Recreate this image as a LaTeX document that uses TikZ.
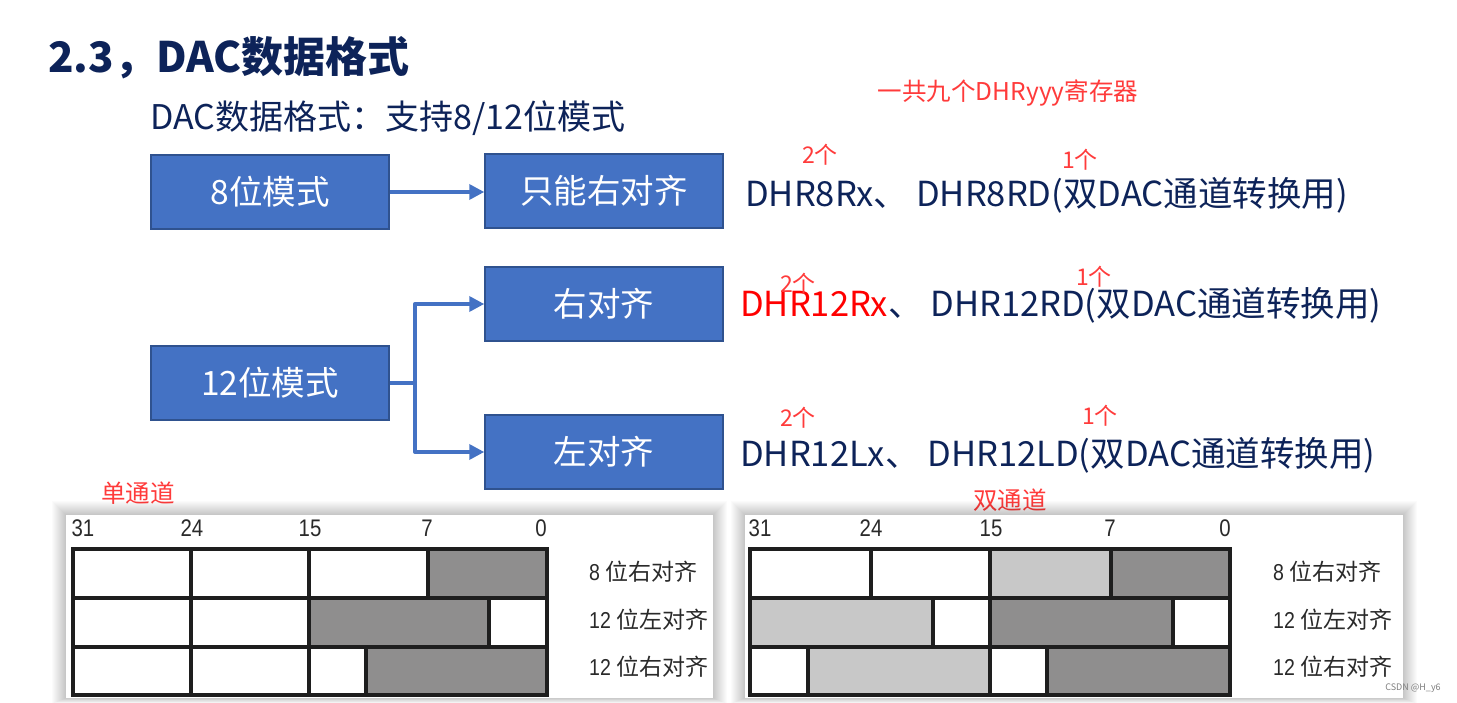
\documentclass[tikz,border=0pt]{standalone}
\usepackage{fontspec}
\setmainfont{Noto Sans CJK SC}
\newfontfamily\bitfont[FakeStretch=0.85]{Liberation Sans}
\usepackage{tikz}
\usetikzlibrary{positioning,arrows.meta,calc}
\usepackage{xcolor}
\definecolor{navy}{HTML}{0D2359}
\definecolor{boxblue}{HTML}{4472C4}
\definecolor{boxedge}{HTML}{2F528F}
\definecolor{notered}{HTML}{FF3B3B}
\definecolor{cellgray}{HTML}{8F8E8E}
\definecolor{celllight}{HTML}{C8C8C8}
\definecolor{cellline}{HTML}{1E1E1E}
\definecolor{labelgray}{HTML}{2A2A2A}

\begin{document}
\begin{tikzpicture}[x=1pt, y=-1pt,
    modeBox/.style={rectangle, draw=boxedge, fill=boxblue, line width=1.5pt, text=white, minimum width=238pt, minimum height=74pt, inner sep=0pt, font=\fontsize{33.5}{38}\selectfont},
    arrowRight/.style={-{Triangle[length=15pt,width=15pt]}, line width=3.5pt, draw=boxblue, line join=round},
    regText/.style={anchor=west, inner sep=0pt, text=navy, font=\fontsize{34.5}{40}\selectfont},
    countNote/.style={inner sep=0pt, text=notered, font=\fontsize{23}{27}\selectfont},
    bitNum/.style={inner sep=0pt, text=labelgray, font=\bitfont\fontsize{24}{27}\selectfont},
    rowNote/.style={anchor=west, inner sep=0pt, text=labelgray, font=\fontsize{23}{26}\selectfont},
    cell/.style={draw=cellline, line width=3.5pt}
]
    \useasboundingbox[fill=white] (0,0) rectangle (1457,703);

    % heading
    \node[anchor=west, inner sep=0pt, text=navy, font=\bfseries\fontsize{42}{50}\selectfont] (title) at (48,58) {2.3，DAC数据格式};
    \node[anchor=west, inner sep=0pt, text=navy, font=\fontsize{34}{40}\selectfont] (subtitle) at (150,118) {DAC数据格式：支持8/12位模式};
    \node[countNote, font=\fontsize{24.5}{29}\selectfont] (total) at (1008,93) {一共九个DHRyyy寄存器};

    % mode boxes
    \node[modeBox] (m8) at (270,192) {8位模式};
    \node[modeBox] (r8) at (604,191) {只能右对齐};
    \node[modeBox] (rAlign) at (604,304) {右对齐};
    \node[modeBox] (m12) at (270,383) {12位模式};
    \node[modeBox] (lAlign) at (604,452) {左对齐};

    \draw[arrowRight] (m8.east) -- (m8.east -| r8.west);
    \draw[arrowRight] (m12.east) -- ++(25,0) coordinate (fork) |- (rAlign.west);
    \draw[arrowRight] (fork) |- (lAlign.west);

    % registers
    \node[regText] (reg8) at (745,195) {DHR8Rx、 DHR8RD(双DAC通道转换用)};
    \node[regText] (reg12R) at (740,305) {\textcolor{red}{DHR12Rx}、 DHR12RD(双DAC通道转换用)};
    \node[regText] (reg12L) at (740,455) {DHR12Lx、 DHR12LD(双DAC通道转换用)};
    \node[countNote] (c8a) at (820,155) {2个};
    \node[countNote] (c8b) at (1080,160) {1个};
    \node[countNote] (c12Ra) at (798,284) {2个};
    \node[countNote] (c12Rb) at (1094,277) {1个};
    \node[countNote] (c12La) at (798,418) {2个};
    \node[countNote] (c12Lb) at (1100,416) {1个};

    % single channel
    \node[countNote, font=\fontsize{24.5}{29}\selectfont] (single) at (138,493) {单通道};
    \foreach \s in {1,...,14}
        \fill[black, opacity=0.016] (66-\s,515-\s) rectangle (713+\s,698+\s*0.4);
    \fill[white] (66,515) rectangle (713,698);
    \foreach \xa/\xb/\ya/\yb/\c in {73/191/549/598/white, 191/309/549/598/white, 309/428/549/598/white, 428/547/549/598/cellgray,
                                    73/191/598/647/white, 191/309/598/647/white, 309/489/598/647/cellgray, 489/547/598/647/white,
                                    73/191/647/695/white, 191/309/647/695/white, 309/366/647/695/white, 366/547/647/695/cellgray}
        \draw[cell, fill=\c] (\xa,\ya) rectangle (\xb,\yb);
    \foreach \n/\x in {31/83, 24/192, 15/310, 7/427, 0/541}
        \node[bitNum] (bitS\n) at (\x,528) {\n};
    \node[rowNote] (rowS1) at (589,572) {{\bitfont 8} 位右对齐};
    \node[rowNote] (rowS2) at (589,620) {{\bitfont 12} 位左对齐};
    \node[rowNote] (rowS3) at (589,667) {{\bitfont 12} 位右对齐};

    % dual channel
    \node[countNote, font=\fontsize{24.5}{29}\selectfont] (dual) at (1010,500) {双通道};
    \foreach \s in {1,...,14}
        \fill[black, opacity=0.016] (745-\s,515-\s) rectangle (1403+\s,698+\s*0.4);
    \fill[white] (745,515) rectangle (1403,698);
    \foreach \xa/\xb/\ya/\yb/\c in {750/871/549/598/white, 871/990/549/598/white, 990/1111/549/598/celllight, 1111/1230/549/598/cellgray,
                                    750/933/598/647/celllight, 933/990/598/647/white, 990/1173/598/647/cellgray, 1173/1230/598/647/white,
                                    750/808/647/695/white, 808/990/647/695/celllight, 990/1047/647/695/white, 1047/1230/647/695/cellgray}
        \draw[cell, fill=\c] (\xa,\ya) rectangle (\xb,\yb);
    \foreach \n/\x in {31/760, 24/871, 15/991, 7/1110, 0/1225}
        \node[bitNum] (bitD\n) at (\x,528) {\n};
    \node[rowNote] (rowD1) at (1273,572) {{\bitfont 8} 位右对齐};
    \node[rowNote] (rowD2) at (1273,620) {{\bitfont 12} 位左对齐};
    \node[rowNote] (rowD3) at (1273,667) {{\bitfont 12} 位右对齐};

    \node[inner sep=0pt, text=gray, font=\fontsize{9}{10}\selectfont] (mark) at (1413,688) {CSDN @H\_y6};
\end{tikzpicture}
\end{document}
